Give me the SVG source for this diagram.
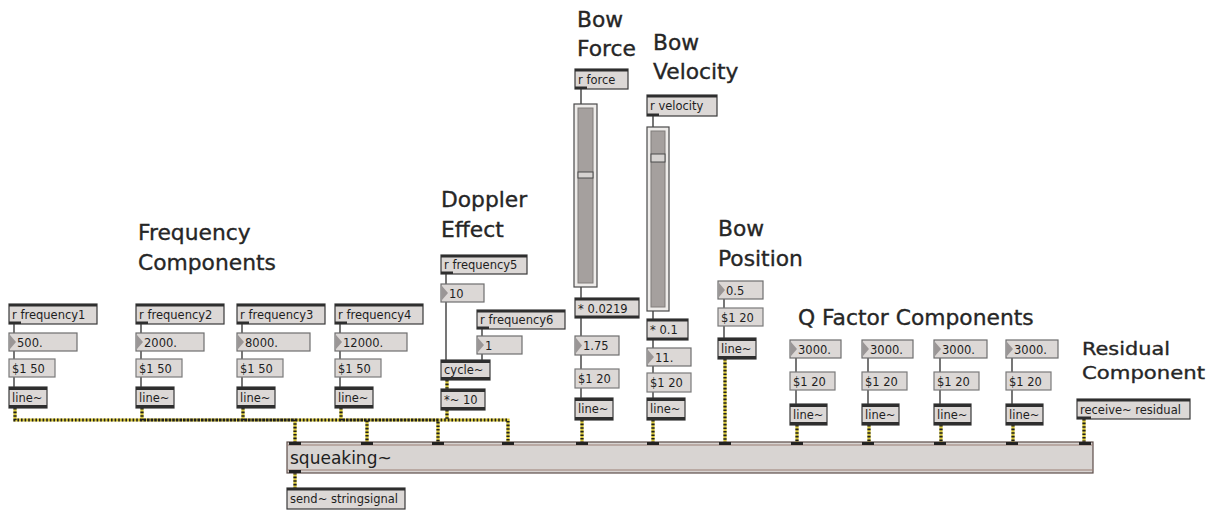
<svg xmlns="http://www.w3.org/2000/svg" width="1213" height="510" viewBox="0 0 1213 510">
<style>
.lbl{font-family:"DejaVu Sans","Liberation Sans",sans-serif;font-size:21.8px;fill:#262626;stroke:#262626;stroke-width:0.35}
.lbs{font-family:"DejaVu Sans","Liberation Sans",sans-serif;font-size:18.5px;fill:#262626;stroke:#262626;stroke-width:0.35}
.t{font-family:"DejaVu Sans","Liberation Sans",sans-serif;font-size:11.5px;fill:#1e1e1e}
.big{font-family:"DejaVu Sans","Liberation Sans",sans-serif;font-size:17px;fill:#1e1e1e}
.obj{fill:#dcd8d6;stroke:#3a3a3a;stroke-width:1.2}
.num{fill:#dcd8d6;stroke:#6e6e6e;stroke-width:1.2}
.msg{fill:#dcd8d6;stroke:#7a7a7a;stroke-width:1.2}
.band{fill:#2e2e2e}
.tri{fill:#9a9696}
.ctl{fill:none;stroke:#3e3e3e;stroke-width:1.4}
.sb{fill:none;stroke:#d9c83a;stroke-width:3.2}
.sd{fill:none;stroke:#1e1e1e;stroke-width:3.2;stroke-dasharray:1.6 2}
.sl{fill:#eeecea;stroke:#4a4a4a;stroke-width:1.2}
.sli{fill:#a5a09e;stroke:#807c7a;stroke-width:1}
.knob{fill:#d6d3d1;stroke:#4a4a4a;stroke-width:1}
</style>

<!-- labels -->
<g id="labels">
<text class="lbl" x="138" y="240">Frequency</text>
<text class="lbl" x="138" y="270">Components</text>
<text class="lbl" x="441" y="207">Doppler</text>
<text class="lbl" x="441" y="237">Effect</text>
<text class="lbl" x="577" y="27">Bow</text>
<text class="lbl" x="577" y="56">Force</text>
<text class="lbl" x="653" y="50">Bow</text>
<text class="lbl" x="653" y="79">Velocity</text>
<text class="lbl" x="718" y="236">Bow</text>
<text class="lbl" x="718" y="266">Position</text>
<text class="lbl" x="798" y="325">Q Factor Components</text>
<text class="lbs" x="1082" y="355" textLength="88" lengthAdjust="spacingAndGlyphs">Residual</text>
<text class="lbs" x="1082" y="379" textLength="123" lengthAdjust="spacingAndGlyphs">Component</text>
</g>

<!-- connectors -->
<g id="connectors">
<!-- control cords -->
<path class="ctl" d="M14,324V333M14,351V359M14,377V387
M141,324V333M141,351V359M141,377V387
M242,324V333M242,351V359M242,377V387
M340,324V333M340,351V359M340,377V387
M446,274V284M446,302V360M482,329V336M482,354V360
M581,89V104M581,287V298M581,318V336M581,355V369M581,388V398
M653,116V127M653,311V319M653,340V348M653,366V373M653,392V398
M724,299V308M724,326V338
M796,358V372M796,390V404
M868,358V372M868,390V404
M940,358V372M940,390V404
M1012,358V372M1012,390V404"/>
<!-- signal cords -->
<g>
<path class="sb" d="M15,408V420H295V442M142,408V420H367V442M243,408V420H438V442M341,408V420H508V442M447,410V420H508V442M447,380V389M582,420V442M653,420V442M725,359V442M797,425V442M869,425V442M941,425V442M1013,425V442M1084,419V442M295,473V488"/>
<path class="sd" d="M15,408V420H295V442M142,408V420H367V442M243,408V420H438V442M341,408V420H508V442M447,410V420H508V442M447,380V389M582,420V442M653,420V442M725,359V442M797,425V442M869,425V442M941,425V442M1013,425V442M1084,419V442M295,473V488"/>
</g>
</g>

<!-- frequency column 1 -->
<g id="rfreq1"><rect class="obj" x="9" y="304" width="88" height="20"/><rect class="band" x="9" y="304" width="88" height="2.5"/><rect class="band" x="9" y="321.5" width="12" height="2.5"/><text class="t" x="12" y="319">r frequency1</text></g>
<g id="num1"><rect class="num" x="9" y="333" width="68" height="18"/><polygon class="tri" points="10,335 16,342 10,349"/><text class="t" x="17" y="347">500.</text></g>
<g id="msg1"><rect class="msg" x="9" y="359" width="46" height="18"/><text class="t" x="12" y="373">$1 50</text></g>
<g id="line1"><rect class="obj" x="9" y="387" width="38" height="21"/><rect class="band" x="9" y="387" width="38" height="3"/><rect class="band" x="9" y="405" width="38" height="3"/><text class="t" x="12" y="402">line~</text></g>

<!-- frequency column 2 -->
<g id="rfreq2"><rect class="obj" x="136" y="304" width="88" height="20"/><rect class="band" x="136" y="304" width="88" height="2.5"/><rect class="band" x="136" y="321.5" width="12" height="2.5"/><text class="t" x="139" y="319">r frequency2</text></g>
<g id="num2"><rect class="num" x="136" y="333" width="68" height="18"/><polygon class="tri" points="137,335 143,342 137,349"/><text class="t" x="144" y="347">2000.</text></g>
<g id="msg2"><rect class="msg" x="136" y="359" width="46" height="18"/><text class="t" x="139" y="373">$1 50</text></g>
<g id="line2"><rect class="obj" x="136" y="387" width="38" height="21"/><rect class="band" x="136" y="387" width="38" height="3"/><rect class="band" x="136" y="405" width="38" height="3"/><text class="t" x="139" y="402">line~</text></g>

<!-- frequency column 3 -->
<g id="rfreq3"><rect class="obj" x="237" y="304" width="88" height="20"/><rect class="band" x="237" y="304" width="88" height="2.5"/><rect class="band" x="237" y="321.5" width="12" height="2.5"/><text class="t" x="240" y="319">r frequency3</text></g>
<g id="num3"><rect class="num" x="237" y="333" width="73" height="18"/><polygon class="tri" points="238,335 244,342 238,349"/><text class="t" x="245" y="347">8000.</text></g>
<g id="msg3"><rect class="msg" x="237" y="359" width="46" height="18"/><text class="t" x="240" y="373">$1 50</text></g>
<g id="line3"><rect class="obj" x="237" y="387" width="38" height="21"/><rect class="band" x="237" y="387" width="38" height="3"/><rect class="band" x="237" y="405" width="38" height="3"/><text class="t" x="240" y="402">line~</text></g>

<!-- frequency column 4 -->
<g id="rfreq4"><rect class="obj" x="335" y="304" width="88" height="20"/><rect class="band" x="335" y="304" width="88" height="2.5"/><rect class="band" x="335" y="321.5" width="12" height="2.5"/><text class="t" x="338" y="319">r frequency4</text></g>
<g id="num4"><rect class="num" x="335" y="333" width="72" height="18"/><polygon class="tri" points="336,335 342,342 336,349"/><text class="t" x="343" y="347">12000.</text></g>
<g id="msg4"><rect class="msg" x="335" y="359" width="46" height="18"/><text class="t" x="338" y="373">$1 50</text></g>
<g id="line4"><rect class="obj" x="335" y="387" width="38" height="21"/><rect class="band" x="335" y="387" width="38" height="3"/><rect class="band" x="335" y="405" width="38" height="3"/><text class="t" x="338" y="402">line~</text></g>

<!-- doppler -->
<g id="rfreq5"><rect class="obj" x="441" y="255" width="86" height="19"/><rect class="band" x="441" y="255" width="86" height="2.5"/><rect class="band" x="441" y="271.5" width="12" height="2.5"/><text class="t" x="444" y="269">r frequency5</text></g>
<g id="num5"><rect class="num" x="441" y="284" width="43" height="18"/><polygon class="tri" points="442,286 448,293 442,300"/><text class="t" x="449" y="298">10</text></g>
<g id="rfreq6"><rect class="obj" x="477" y="310" width="88" height="19"/><rect class="band" x="477" y="310" width="88" height="2.5"/><rect class="band" x="477" y="326.5" width="12" height="2.5"/><text class="t" x="480" y="324">r frequency6</text></g>
<g id="num6"><rect class="num" x="477" y="336" width="45" height="18"/><polygon class="tri" points="478,338 484,345 478,352"/><text class="t" x="485" y="350">1</text></g>
<g id="cycle"><rect class="obj" x="441" y="360" width="49" height="20"/><rect class="band" x="441" y="360" width="49" height="3"/><rect class="band" x="441" y="377" width="49" height="3"/><text class="t" x="444" y="374">cycle~</text></g>
<g id="mul10"><rect class="obj" x="441" y="389" width="44" height="21"/><rect class="band" x="441" y="389" width="44" height="3"/><rect class="band" x="441" y="407" width="44" height="3"/><text class="t" x="444" y="404">*~ 10</text></g>

<!-- bow force -->
<g id="rforce"><rect class="obj" x="575" y="69" width="53" height="20"/><rect class="band" x="575" y="69" width="53" height="2.5"/><rect class="band" x="575" y="86.5" width="12" height="2.5"/><text class="t" x="578" y="84">r force</text></g>
<g id="sliderForce"><rect class="sl" x="574" y="104" width="23" height="183"/><rect class="sli" x="578" y="108" width="15" height="175"/><rect class="knob" x="578" y="172" width="15" height="6"/></g>
<g id="mulForce"><rect class="obj" x="575" y="298" width="64" height="20"/><rect class="band" x="575" y="298" width="64" height="2.5"/><rect class="band" x="575" y="315.5" width="64" height="2.5"/><text class="t" x="578" y="313">* 0.0219</text></g>
<g id="numForce"><rect class="num" x="575" y="336" width="44" height="19"/><polygon class="tri" points="576,338 582,345.5 576,353"/><text class="t" x="583" y="350">1.75</text></g>
<g id="msgForce"><rect class="msg" x="575" y="369" width="44" height="19"/><text class="t" x="578" y="383">$1 20</text></g>
<g id="lineForce"><rect class="obj" x="575" y="398" width="38" height="22"/><rect class="band" x="575" y="398" width="38" height="3"/><rect class="band" x="575" y="417" width="38" height="3"/><text class="t" x="578" y="413">line~</text></g>

<!-- bow velocity -->
<g id="rvelocity"><rect class="obj" x="647" y="95" width="70" height="21"/><rect class="band" x="647" y="95" width="70" height="2.5"/><rect class="band" x="647" y="113.5" width="12" height="2.5"/><text class="t" x="650" y="110">r velocity</text></g>
<g id="sliderVel"><rect class="sl" x="647" y="127" width="22" height="184"/><rect class="sli" x="651" y="131" width="14" height="176"/><rect class="knob" x="651" y="154" width="14" height="8"/></g>
<g id="mulVel"><rect class="obj" x="647" y="319" width="41" height="21"/><rect class="band" x="647" y="319" width="41" height="2.5"/><rect class="band" x="647" y="337.5" width="41" height="2.5"/><text class="t" x="650" y="334">* 0.1</text></g>
<g id="numVel"><rect class="num" x="647" y="348" width="44" height="18"/><polygon class="tri" points="648,350 654,357 648,364"/><text class="t" x="655" y="362">11.</text></g>
<g id="msgVel"><rect class="msg" x="647" y="373" width="44" height="19"/><text class="t" x="650" y="387">$1 20</text></g>
<g id="lineVel"><rect class="obj" x="647" y="398" width="38" height="22"/><rect class="band" x="647" y="398" width="38" height="3"/><rect class="band" x="647" y="417" width="38" height="3"/><text class="t" x="650" y="413">line~</text></g>

<!-- bow position -->
<g id="numPos"><rect class="num" x="718" y="281" width="45" height="18"/><polygon class="tri" points="719,283 725,290 719,297"/><text class="t" x="726" y="295">0.5</text></g>
<g id="msgPos"><rect class="msg" x="718" y="308" width="45" height="18"/><text class="t" x="721" y="322">$1 20</text></g>
<g id="linePos"><rect class="obj" x="718" y="338" width="38" height="21"/><rect class="band" x="718" y="338" width="38" height="3"/><rect class="band" x="718" y="356" width="38" height="3"/><text class="t" x="721" y="353">line~</text></g>

<!-- Q factor -->
<g id="numQ1"><rect class="num" x="790" y="340" width="51" height="18"/><polygon class="tri" points="791,342 797,349 791,356"/><text class="t" x="798" y="354">3000.</text></g>
<g id="msgQ1"><rect class="msg" x="790" y="372" width="45" height="18"/><text class="t" x="793" y="386">$1 20</text></g>
<g id="lineQ1"><rect class="obj" x="790" y="404" width="37" height="21"/><rect class="band" x="790" y="404" width="37" height="3"/><rect class="band" x="790" y="422" width="37" height="3"/><text class="t" x="793" y="419">line~</text></g>

<g id="numQ2"><rect class="num" x="862" y="340" width="51" height="18"/><polygon class="tri" points="863,342 869,349 863,356"/><text class="t" x="870" y="354">3000.</text></g>
<g id="msgQ2"><rect class="msg" x="862" y="372" width="45" height="18"/><text class="t" x="865" y="386">$1 20</text></g>
<g id="lineQ2"><rect class="obj" x="862" y="404" width="37" height="21"/><rect class="band" x="862" y="404" width="37" height="3"/><rect class="band" x="862" y="422" width="37" height="3"/><text class="t" x="865" y="419">line~</text></g>

<g id="numQ3"><rect class="num" x="934" y="340" width="53" height="18"/><polygon class="tri" points="935,342 941,349 935,356"/><text class="t" x="942" y="354">3000.</text></g>
<g id="msgQ3"><rect class="msg" x="934" y="372" width="45" height="18"/><text class="t" x="937" y="386">$1 20</text></g>
<g id="lineQ3"><rect class="obj" x="934" y="404" width="37" height="21"/><rect class="band" x="934" y="404" width="37" height="3"/><rect class="band" x="934" y="422" width="37" height="3"/><text class="t" x="937" y="419">line~</text></g>

<g id="numQ4"><rect class="num" x="1006" y="340" width="52" height="18"/><polygon class="tri" points="1007,342 1013,349 1007,356"/><text class="t" x="1014" y="354">3000.</text></g>
<g id="msgQ4"><rect class="msg" x="1006" y="372" width="45" height="18"/><text class="t" x="1009" y="386">$1 20</text></g>
<g id="lineQ4"><rect class="obj" x="1006" y="404" width="37" height="21"/><rect class="band" x="1006" y="404" width="37" height="3"/><rect class="band" x="1006" y="422" width="37" height="3"/><text class="t" x="1009" y="419">line~</text></g>

<!-- residual -->
<g id="receiveResidual"><rect class="obj" x="1077" y="399" width="113" height="20"/><rect class="band" x="1077" y="399" width="113" height="2.5"/><rect class="band" x="1077" y="416.5" width="14" height="2.5"/><text class="t" x="1080" y="414">receive~ residual</text></g>

<!-- squeaking~ -->
<g id="squeaking">
<rect x="287" y="442" width="806" height="31" fill="#d8d4d2" stroke="#5e4e4a" stroke-width="1.2"/>
<line x1="287" y1="445" x2="1093" y2="445" stroke="#9a7e74" stroke-width="1"/>
<line x1="287" y1="470" x2="1093" y2="470" stroke="#9a7e74" stroke-width="1"/>
<g fill="#222"><rect x="289" y="442" width="12" height="3"/><rect x="361" y="442" width="12" height="3"/><rect x="432" y="442" width="12" height="3"/><rect x="502" y="442" width="12" height="3"/><rect x="576" y="442" width="12" height="3"/><rect x="647" y="442" width="12" height="3"/><rect x="719" y="442" width="12" height="3"/><rect x="791" y="442" width="12" height="3"/><rect x="862" y="442" width="12" height="3"/><rect x="934" y="442" width="12" height="3"/><rect x="1006" y="442" width="12" height="3"/><rect x="1079" y="442" width="12" height="3"/><rect x="289" y="470" width="12" height="3"/></g>
<text class="big" x="290" y="464">squeaking~</text>
</g>

<g id="sendString"><rect class="obj" x="287" y="488" width="118" height="21"/><rect class="band" x="287" y="488" width="118" height="2.5"/><text class="t" x="290" y="503">send~ stringsignal</text></g>
</svg>
